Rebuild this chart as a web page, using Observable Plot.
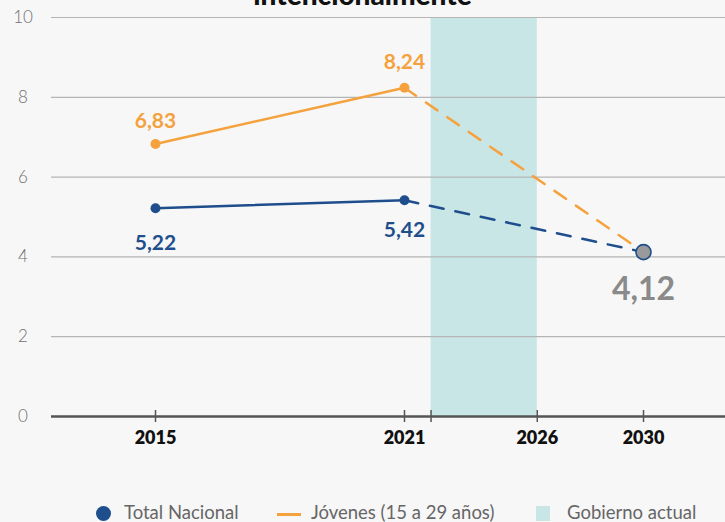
<!DOCTYPE html>
<html>
<head>
<meta charset="utf-8">
<script src="https://cdn.jsdelivr.net/npm/d3@7"></script>
<script src="https://cdn.jsdelivr.net/npm/@observablehq/plot@0.6"></script>
<style>
  html, body { margin: 0; padding: 0; background: #f7f7f7; width: 725px; height: 522px; overflow: hidden; font-family: Lato, "Open Sans", sans-serif; }
  #wrap { position: relative; width: 725px; height: 522px; }
  #title { position: absolute; top: -20px; left: 0; width: 725px; text-align: center; font-size: 28px; line-height: 28px; font-weight: 900; color: #111; }
  #chart { position: absolute; top: 0; left: 0; }
  #legend { position: absolute; top: 501px; left: 0; width: 725px; height: 24px; font-size: 18.5px; color: #666; font-weight: 400; }
  #legend span { position: absolute; top: 0px; white-space: nowrap; }
</style>
</head>
<body>
<div id="wrap">
  <div id="title">intencionalmente</div>
  <div id="chart"></div>
  <div id="legend"></div>
</div>
<script>
const years = [2015, 2021, 2030];
const totalNacional = [5.22, 5.42, 4.12];
const jovenes = [6.83, 8.24, 4.12];
const labelsTotal = ["5,22", "5,42"];
const labelsJovenes = ["6,83", "8,24"];
const finalLabel = "4,12";
const bandYears = [2022, 2026];
const xTicks = [2015, 2021, 2022, 2026, 2030];
const xTickLabels = {2015: "2015", 2021: "2021", 2026: "2026", 2030: "2030"};
const yTicks = [0, 2, 4, 6, 8, 10];
const legendLabels = ["Total Nacional", "Jóvenes (15 a 29 años)", "Gobierno actual"];

const blue = "#1f4e8c";
const orange = "#f5a23e";
const teal = "#c9e6e7";

const solidT = years.slice(0, 2).map((x, i) => ({x, y: totalNacional[i]}));
const dashT = years.slice(1).map((x, i) => ({x, y: totalNacional[i + 1]}));
const solidJ = years.slice(0, 2).map((x, i) => ({x, y: jovenes[i]}));
const dashJ = years.slice(1).map((x, i) => ({x, y: jovenes[i + 1]}));
const ptsT = solidT.map((d, i) => ({...d, label: labelsTotal[i]}));
const ptsJ = solidJ.map((d, i) => ({...d, label: labelsJovenes[i]}));
const last = [{x: years[2], y: totalNacional[2], label: finalLabel}];

const chart = Plot.plot({
  width: 725,
  height: 470,
  marginTop: 17,
  marginBottom: 54,
  marginLeft: 51,
  marginRight: 0,
  style: {background: "transparent", fontFamily: "Lato, sans-serif"},
  x: {type: "linear", domain: [2012.5, 2015, 2021, 2030, 2033.1], range: [51, 155, 404, 643, 725], label: null},
  y: {domain: [0, 10], label: null},
  marks: [
    Plot.rectY([{x1: bandYears[0], x2: bandYears[1]}], {x1: "x1", x2: "x2", y1: 0, y2: 10, fill: teal}),
    Plot.gridY(yTicks.filter(d => d > 0), {stroke: "#b5b5b5", strokeOpacity: 1, strokeWidth: 1.2}),
    Plot.axisY(yTicks, {tickSize: 0, tickPadding: 28.5, textAnchor: "middle", fontSize: 17, fill: "#707070", fontWeight: 300, label: null}),
    Plot.ruleY([0], {stroke: "#555", strokeWidth: 2.5}),
    Plot.ruleX(xTicks, {y1: -0.15, y2: 0.15, stroke: "#555", strokeWidth: 1.5}),
    Plot.axisX(xTicks, {tickSize: 0, tickPadding: 15, fontSize: 18, fontWeight: 800, fill: "#111", label: null, tickFormat: d => xTickLabels[d] || ""}),
    Plot.line(dashT, {x: "x", y: "y", stroke: blue, strokeWidth: 2.5, strokeDasharray: "14,12"}),
    Plot.line(dashJ, {x: "x", y: "y", stroke: orange, strokeWidth: 2.5, strokeDasharray: "14,12"}),
    Plot.line(solidT, {x: "x", y: "y", stroke: blue, strokeWidth: 2.5}),
    Plot.line(solidJ, {x: "x", y: "y", stroke: orange, strokeWidth: 2.5}),
    Plot.dot(ptsT, {x: "x", y: "y", r: 5, fill: blue}),
    Plot.dot(ptsJ, {x: "x", y: "y", r: 5, fill: orange}),
    Plot.dot(last, {x: "x", y: "y", r: 7.5, fill: "#9a9a9a", stroke: blue, strokeWidth: 1.6}),
    Plot.text(ptsJ.slice(0, 1), {x: "x", y: "y", text: "label", dy: -23, fill: orange, fontSize: 21, fontWeight: 700}),
    Plot.text(ptsJ.slice(1), {x: "x", y: "y", text: "label", dy: -25, fill: orange, fontSize: 21, fontWeight: 700}),
    Plot.text(ptsT.slice(0, 1), {x: "x", y: "y", text: "label", dy: 35, fill: blue, fontSize: 21, fontWeight: 700}),
    Plot.text(ptsT.slice(1), {x: "x", y: "y", text: "label", dy: 30, fill: blue, fontSize: 21, fontWeight: 700}),
    Plot.text(last, {x: "x", y: "y", text: "label", dy: 38, fill: "#8a8a8a", fontSize: 32, fontWeight: 700})
  ]
});
document.getElementById("chart").appendChild(chart);

const legend = document.getElementById("legend");
legend.innerHTML = `
  <span style="left:96px;top:5px;width:15px;height:15px;border-radius:50%;background:${blue}"></span>
  <span style="left:124px">${legendLabels[0]}</span>
  <span style="left:277px;top:12px;width:24px;height:2.5px;background:${orange}"></span>
  <span style="left:311px">${legendLabels[1]}</span>
  <span style="left:536px;top:5px;width:14px;height:15px;background:${teal}"></span>
  <span style="left:567px">${legendLabels[2]}</span>
`;
</script>
</body>
</html>
